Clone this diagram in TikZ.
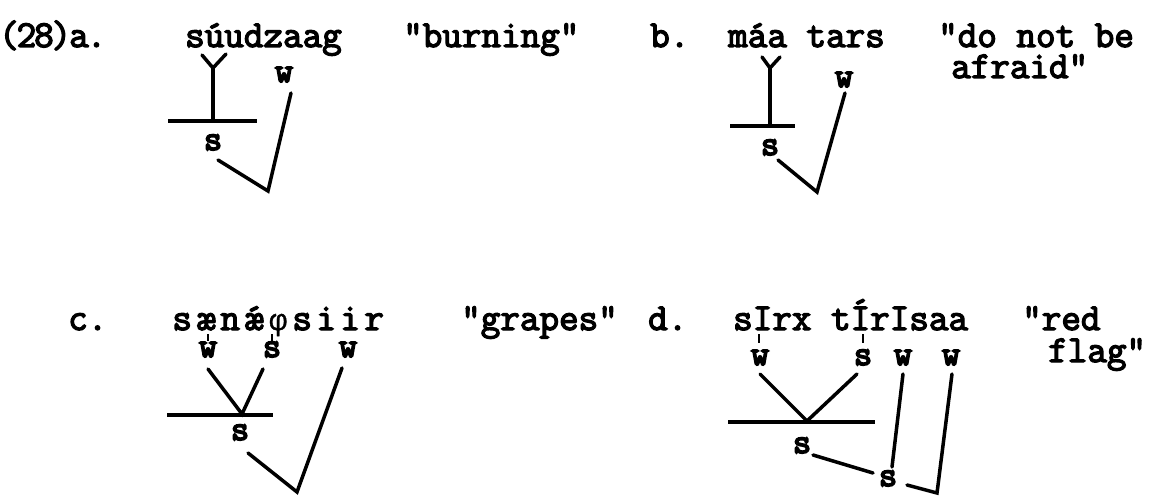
\documentclass[tikz,border=0pt]{standalone}
\usepackage{fontspec}
\newfontfamily\tw{Latin Modern Mono}[FakeBold=3.5]
\newfontfamily\twb{Latin Modern Mono}[FakeBold=5]
\newfontfamily\phifont{Liberation Mono}[FakeBold=1]
\newcommand\tcell[2]{\makebox[#1][c]{#2}}
\tikzset{
  txt/.style={anchor=base west, inner sep=0pt, font=\tw\fontsize{38}{40}\selectfont},
  lab/.style={anchor=base, inner sep=0pt, font=\twb\fontsize{35}{37}\selectfont},
  ln/.style={line width=3.5pt, line cap=round},
  bar/.style={line width=3.5pt},
  tick/.style={line width=1.8pt}
}
\begin{document}
\begin{tikzpicture}[x=1pt,y=-1pt]
\useasboundingbox (0,0) rectangle (1154,497);
% ---------- row 1 texts
\node[txt] (ta) at (0,47) {\tcell{17.5pt}{(}\tcell{17.5pt}{2}\tcell{17.5pt}{8}\tcell{17.5pt}{)}\tcell{17.5pt}{a}\tcell{17.5pt}{.}};
\node[txt] (wa) at (185,47) {súudzaag};
\node[txt] (ga) at (403,47) {"burning"};
\node[txt] (tb) at (650,47) {b.};
\node[txt] (wb) at (728,47) {máa tars};
\node[txt] (gb1) at (938,47) {"do not be};
\node[txt] (gb2) at (951,78) {afraid"};
% ---------- (a)
\coordinate (aY1) at (202,55);
\coordinate (aY2) at (226,54);
\coordinate (aJ) at (213,68);
\coordinate (aT) at (213,121);
\coordinate (aB1) at (168,121);
\coordinate (aB2) at (257,121);
\node[lab] (as) at (213,150) {s};
\node[lab] (aw) at (284,82) {w};
\coordinate (aV) at (268,191);
\coordinate (awl) at (291,93);
\coordinate (asl) at (218,160);
\draw[ln] (aY1) -- (aJ) -- (aY2);
\draw[ln] (aJ) -- (aT);
\draw[bar] (aB1) -- (aB2);
\draw[ln] (awl) -- (aV) -- (asl);
% ---------- (b)
\coordinate (bY1) at (762,57);
\coordinate (bY2) at (780,57);
\coordinate (bJ) at (770,68);
\coordinate (bT) at (770,126);
\coordinate (bB1) at (730,126);
\coordinate (bB2) at (795,126);
\node[lab] (bs) at (770,155) {s};
\node[lab] (bw) at (844,87) {w};
\coordinate (bV) at (817,192);
\coordinate (bwl) at (845,93);
\coordinate (bsl) at (778,160);
\draw[ln] (bY1) -- (bJ) -- (bY2);
\draw[ln] (bJ) -- (bT);
\draw[bar] (bB1) -- (bB2);
\draw[ln] (bwl) -- (bV) -- (bsl);
% ---------- row 2 texts
\node[txt] (tc) at (68,330) {c.};
\node[txt] (wc) at (170,330) {\tcell{24pt}{s}\tcell{24pt}{æ}\tcell{24pt}{n}\tcell{24pt}{\'{\ae}}\tcell{24pt}{\phifont\fontsize{30}{32}\selectfont φ}\tcell{24pt}{s}\tcell{24pt}{i}\tcell{24pt}{i}\tcell{24pt}{r}};
\node[txt] (gc) at (461,330) {"grapes"};
\node[txt] (td) at (648,330) {d.};
\node[txt] (wd) at (733,330) {sIrx tÍrIsaa};
\node[txt] (gd1) at (1022,330) {"red};
\node[txt] (gd2) at (1048,362) {flag"};
% ---------- (c)
\node[lab] (cw1) at (208,357) {w};
\node[lab] (cs1) at (272,357) {s};
\node[lab] (cw2) at (348,357) {w};
\node[lab] (cs2) at (240,440) {s};
\coordinate (ct1) at (208,334);
\coordinate (ct2) at (272,334);
\draw[tick] (ct1) -- ++(0,7);
\draw[tick] (ct2) -- ++(0,7);
\coordinate (cJ) at (242,414);
\coordinate (cB1) at (167,415);
\coordinate (cB2) at (273,415);
\coordinate (cV) at (297,492);
\draw[ln] (208,369) -- (cJ) -- (263,369);
\draw[bar] (cB1) -- (cB2);
\draw[ln] (248,453) -- (cV) -- (342,368);
% ---------- (d)
\node[lab] (dw1) at (760,365) {w};
\node[lab] (ds1) at (863,365) {s};
\node[lab] (dw2) at (903,365) {w};
\node[lab] (dw3) at (951,365) {w};
\node[lab] (ds2) at (802,453) {s};
\node[lab] (ds3) at (888,486) {s};
\coordinate (dt1) at (759,334);
\coordinate (dt2) at (863,334);
\draw[tick] (dt1) -- ++(0,9);
\draw[tick] (dt2) -- ++(0,9);
\coordinate (dJ) at (807,421);
\coordinate (dB1) at (728,422);
\coordinate (dB2) at (875,422);
\draw[ln] (760,374) -- (dJ) -- (857,374);
\draw[bar] (dB1) -- (dB2);
\draw[ln] (813,455) -- (873,473);
\draw[ln] (903,374) -- (892,467);
\coordinate (dV) at (937,493);
\draw[ln] (907,485) -- (dV) -- (952,374);
\end{tikzpicture}
\end{document}
